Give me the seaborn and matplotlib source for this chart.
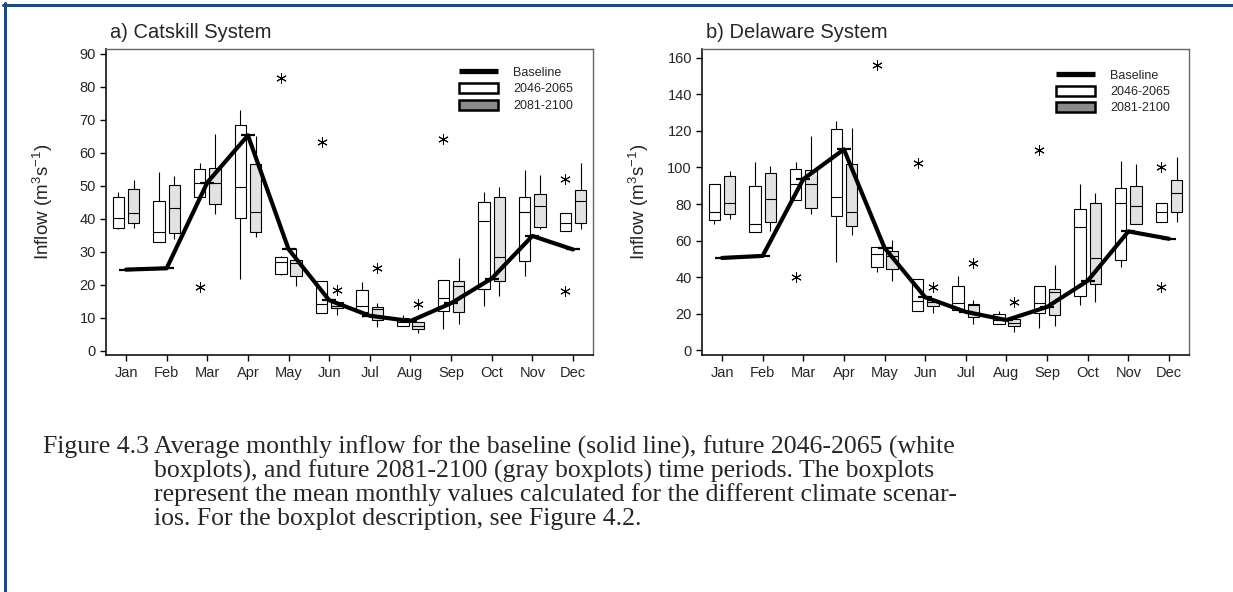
import numpy as np
import pandas as pd
import matplotlib
matplotlib.use("Agg")
import matplotlib.pyplot as plt
import seaborn as sns
from matplotlib.patches import Patch
from matplotlib.lines import Line2D

# ---------------- data ----------------
months = ["Jan", "Feb", "Mar", "Apr", "May", "Jun", "Jul", "Aug", "Sep", "Oct", "Nov", "Dec"]
periods = ["2046-2065", "2081-2100"]

# Catskill System
cat_baseline = [24.6, 25.0, 51.0, 65.3, 30.8, 15.3, 10.6, 9.0, 14.4, 21.9, 34.8, 30.7]
cat_w_lo  = [36.8, 32.9, 46.5, 21.7, 23.0, 11.3, 10.3, 7.6, 6.5, 13.5, 22.6, 36.4]
cat_w_q1  = [37.3, 33.1, 46.5, 40.2, 23.3, 11.3, 11.8, 7.6, 12.1, 18.8, 27.3, 36.4]
cat_w_med = [40.3, 35.9, 50.8, 49.8, 26.9, 14.1, 13.7, 8.6, 15.9, 39.3, 42.0, 38.7]
cat_w_q3  = [46.5, 45.5, 55.0, 68.4, 28.5, 21.1, 18.4, 9.8, 21.4, 45.2, 46.5, 41.7]
cat_w_hi  = [48.0, 54.1, 57.0, 72.9, 28.8, 21.1, 20.7, 10.8, 21.4, 48.0, 54.8, 41.7]
cat_w_out = [[], [], [19.3], [], [82.6], [63.4], [], [], [64.1], [], [], [18.2, 52.0]]
cat_g_lo  = [37.3, 33.9, 41.4, 34.4, 19.7, 10.8, 7.3, 5.3, 8.0, 16.7, 36.8, 36.8]
cat_g_q1  = [38.6, 35.8, 44.6, 36.1, 22.6, 13.0, 9.3, 6.6, 11.8, 21.1, 37.4, 38.6]
cat_g_med = [41.7, 43.3, 50.8, 42.0, 26.7, 13.6, 12.7, 7.6, 19.7, 28.5, 44.0, 45.3]
cat_g_q3  = [49.1, 50.4, 55.3, 56.6, 27.5, 14.9, 13.3, 8.8, 21.1, 46.5, 47.5, 48.7]
cat_g_hi  = [51.8, 53.1, 65.7, 65.0, 31.0, 14.9, 14.4, 8.8, 28.0, 49.5, 53.3, 57.0]
cat_g_out = [[], [], [], [], [], [18.5], [25.0], [14.1], [], [], [], []]

# Delaware System
del_baseline = [50.5, 51.6, 93.6, 109.9, 56.0, 29.0, 21.0, 16.5, 23.7, 38.0, 65.0, 61.0]
del_w_lo  = [68.8, 64.8, 82.3, 48.4, 42.9, 21.5, 21.9, 14.6, 11.9, 24.6, 45.3, 69.9]
del_w_q1  = [71.2, 64.8, 82.3, 73.5, 45.8, 21.5, 21.9, 14.6, 20.6, 29.6, 49.6, 69.9]
del_w_med = [75.9, 69.3, 91.2, 83.6, 52.9, 26.8, 25.9, 16.8, 25.9, 67.2, 80.3, 75.4]
del_w_q3  = [90.7, 89.6, 98.9, 120.8, 56.6, 39.2, 35.2, 19.7, 35.2, 77.0, 88.9, 80.7]
del_w_hi  = [90.7, 103.1, 103.1, 125.5, 56.6, 39.2, 40.5, 21.5, 35.2, 90.7, 103.6, 80.7]
del_w_out = [[], [], [40.0], [], [156.0], [102.7], [], [], [109.5], [], [], [34.7, 100.4]]
del_g_lo  = [71.7, 65.1, 74.3, 63.0, 37.8, 20.4, 14.6, 10.0, 13.1, 26.5, 68.8, 69.9]
del_g_q1  = [74.3, 69.9, 77.7, 68.2, 44.7, 24.1, 18.2, 13.5, 19.5, 36.5, 68.8, 75.4]
del_g_med = [80.7, 82.5, 90.7, 75.4, 51.6, 26.5, 24.5, 15.0, 31.9, 50.7, 79.0, 86.0]
del_g_q3  = [95.4, 96.7, 98.4, 101.8, 54.2, 27.4, 25.5, 17.0, 33.4, 80.7, 90.1, 92.9]
del_g_hi  = [97.8, 100.7, 117.2, 121.4, 60.2, 27.4, 27.7, 18.2, 46.9, 85.8, 101.8, 105.8]
del_g_out = [[], [], [], [], [], [34.7], [48.0], [26.5], [], [], [], []]

cat_yticks = list(range(0, 91, 10))
del_yticks = list(range(0, 161, 20))

caption_head = "Figure 4.3"
caption_lines = [
    "Average monthly inflow for the baseline (solid line), future 2046-2065 (white",
    "boxplots), and future 2081-2100 (gray boxplots) time periods. The boxplots",
    "represent the mean monthly values calculated for the different climate scenar-",
    "ios. For the boxplot description, see Figure 4.2.",
]


def box_sample(lo, q1, med, q3, hi, outs):
    """13 values whose quartiles / whiskers / fliers reproduce the summary."""
    low_out = sorted(o for o in outs if o < q1)
    high_out = sorted(o for o in outs if o > q3)
    lower = low_out + [lo]
    lower = lower + [q1] * (3 - len(lower))
    upper = [hi] + high_out
    upper = [q3] * (3 - len(upper)) + upper
    return lower + [q1, q1, med, med, med, q3, q3] + upper


def build_frame(stats_w, stats_g):
    rows = []
    for period, stats in zip(periods, (stats_w, stats_g)):
        for i, m in enumerate(months):
            vals = box_sample(*(s[i] for s in stats))
            for v in vals:
                rows.append({"month": m, "period": period, "value": v})
    return pd.DataFrame(rows)


cat_df = build_frame((cat_w_lo, cat_w_q1, cat_w_med, cat_w_q3, cat_w_hi, cat_w_out),
                     (cat_g_lo, cat_g_q1, cat_g_med, cat_g_q3, cat_g_hi, cat_g_out))
del_df = build_frame((del_w_lo, del_w_q1, del_w_med, del_w_q3, del_w_hi, del_w_out),
                     (del_g_lo, del_g_q1, del_g_med, del_g_q3, del_g_hi, del_g_out))

# ---------------- style ----------------
sns.set_theme(style="white")
plt.rcParams["font.family"] = ["Liberation Sans", "DejaVu Sans"]
plt.rcParams["mathtext.fontset"] = "custom"
plt.rcParams["mathtext.rm"] = "Liberation Sans"
plt.rcParams["mathtext.it"] = "Liberation Sans"

W, H = 1233, 592
fig = plt.figure(figsize=(W / 100, H / 100), dpi=100)
fig.patch.set_facecolor("white")

box_fill = "#e2e2e2"
legend_gray = "#8a8a8a"


def panel(ax, df, base, yticks, ylim, title, leg_xy):
    sns.boxplot(data=df, x="month", y="value", hue="period", order=months,
                hue_order=periods, palette={periods[0]: "white", periods[1]: box_fill},
                saturation=1, width=0.75, gap=0.25, linecolor="black", linewidth=0.8,
                showcaps=False, legend=False, ax=ax,
                flierprops=dict(marker=(6, 2, 0), markersize=7.5, markeredgewidth=0.7,
                                markeredgecolor="black", markerfacecolor="black"))
    sns.pointplot(x=months, y=base, order=months, color="black", errorbar=None,
                  markers="_", markersize=10, markeredgewidth=1.6, linewidth=3.0,
                  ax=ax, zorder=10)
    ax.set_xlim(-0.5, 11.5)
    ax.set_ylim(*ylim)
    ax.set_yticks(yticks)
    ax.set_xticks(range(12))
    ax.set_xticklabels(months)
    ax.set_xlabel("")
    ax.set_ylabel("Inflow (m$^3$s$^{-1}$)", fontsize=13.5)
    ax.yaxis.set_label_coords(-0.105, 0.5)
    ax.tick_params(axis="both", which="both", direction="out", length=4.5, width=1.0,
                   color="black", labelsize=10.5, pad=2.5, left=True, bottom=True)
    ax.tick_params(axis="x", pad=3.5)
    for side in ("left", "bottom"):
        ax.spines[side].set_color("#111111")
        ax.spines[side].set_linewidth(1.2)
    for side in ("top", "right"):
        ax.spines[side].set_color("#666666")
        ax.spines[side].set_linewidth(1.0)
    ax.text(0.008, 1.036, title, transform=ax.transAxes, fontsize=14.5,
            ha="left", va="baseline")
    handles = [
        Line2D([], [], color="black", linewidth=3.8, solid_capstyle="butt"),
        Patch(facecolor="white", edgecolor="black", linewidth=1.8),
        Patch(facecolor=legend_gray, edgecolor="black", linewidth=1.8),
    ]
    ax.legend(handles, ["Baseline"] + periods, loc="upper left", bbox_to_anchor=leg_xy,
              frameon=False, fontsize=9, handlelength=3.1, handleheight=0.85,
              handletextpad=1.2, labelspacing=0.33, borderpad=0, borderaxespad=0)


ax1 = fig.add_axes([105.7 / W, (H - 355) / H, 487.6 / W, 306 / H])
ax2 = fig.add_axes([701.7 / W, (H - 355) / H, 487.6 / W, 306 / H])
panel(ax1, cat_df, cat_baseline, cat_yticks, (-1.3, 91.5), "a) Catskill System", (0.725, 0.942))
panel(ax2, del_df, del_baseline, del_yticks, (-2.6, 164.8), "b) Delaware System", (0.727, 0.934))

# caption
cap_font = dict(family=["Liberation Serif", "DejaVu Serif"], fontsize=18.5, va="center", ha="left")
fig.text(43 / W, 1 - 447 / H, caption_head, **cap_font)
for k, line in enumerate(caption_lines):
    fig.text(154 / W, 1 - (447 + 24 * k) / H, line, **cap_font)

# page border (left and top)
border = "#1F497D"
fig.add_artist(Line2D([4.5 / W, 4.5 / W], [0, 1 - 3 / H], transform=fig.transFigure,
                      color=border, linewidth=2.2))
fig.add_artist(Line2D([3 / W, 1], [1 - 4.5 / H, 1 - 4.5 / H], transform=fig.transFigure,
                      color=border, linewidth=2.2))

fig.savefig("out.png", dpi=100)
